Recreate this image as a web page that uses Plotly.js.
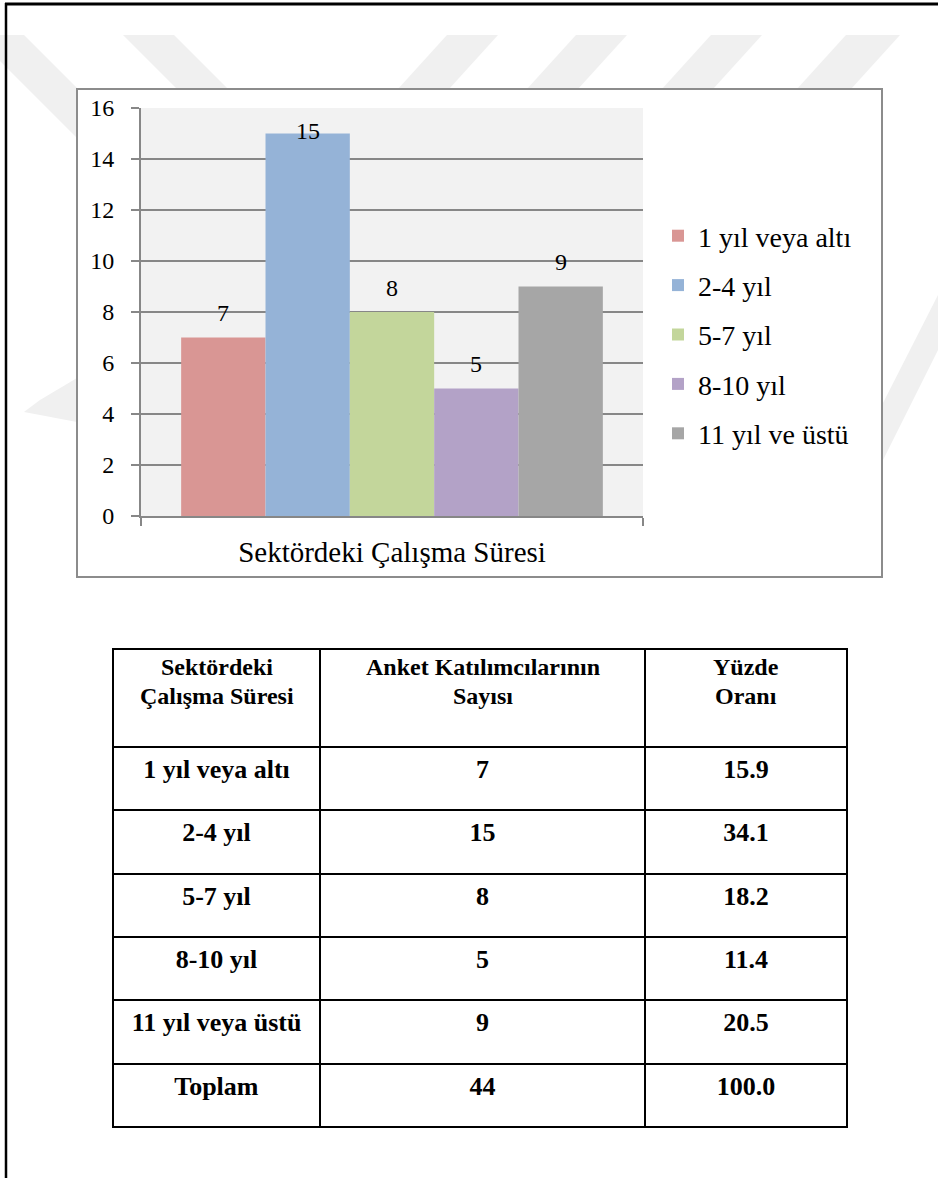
<!DOCTYPE html>
<html>
<head>
<meta charset="utf-8">
<script src="https://cdn.plot.ly/plotly-3.0.1.min.js"></script>
<style>
  html, body { margin: 0; padding: 0; background: #ffffff; }
  #chart { width: 938px; height: 1178px; }
</style>
</head>
<body>
<div id="chart"></div>
<script>
// ---- data ----
const categoryLabel = 'Sektördeki Çalışma Süresi';
const seriesNames = ['1 yıl veya altı', '2-4 yıl', '5-7 yıl', '8-10 yıl', '11 yıl ve üstü'];
const counts = [7, 15, 8, 5, 9];
const yTickValues = [0, 2, 4, 6, 8, 10, 12, 14, 16];

const tableHeaderLines = [
  ['Sektördeki', 'Çalışma Süresi'],
  ['Anket Katılımcılarının', 'Sayısı'],
  ['Yüzde', 'Oranı']
];
const tableRowLabels = ['1 yıl veya altı', '2-4 yıl', '5-7 yıl', '8-10 yıl', '11 yıl veya üstü', 'Toplam'];
const totalCount = 44;
const percentValues = ['15.9', '34.1', '18.2', '11.4', '20.5'];
const totalPercent = '100.0';

// ---- style ----
const seriesColors = ['#d99694', '#95b3d7', '#c3d69b', '#b3a2c7', '#a6a6a6'];
const FONT = 'Liberation Serif';
const W = 938, H = 1178;
const px = v => v / W;          // page pixel -> paper x
const py = v => 1 - v / H;      // page pixel -> paper y
const axisGray = '#878787';
const barGap = 0.16;
const TABLE_FONT = 26;
const HEADER_FONT = 24;

// polygon (page pixels) -> paper path
function poly(points) {
  return 'M' + points.map(p => px(p[0]).toFixed(5) + ',' + py(p[1]).toFixed(5)).join(' L') + ' Z';
}

// ---- bar traces ----
const barTraces = seriesNames.map((name, i) => ({
  type: 'bar',
  name: name,
  x: [categoryLabel],
  y: [counts[i]],
  marker: { color: seriesColors[i], line: { width: 0 } },
  legendgroup: 'g' + i,
  hoverinfo: 'name+y',
  xaxis: 'x', yaxis: 'y'
}));

// ---- value labels above the bars ----
const yMax = 16;
const groupWidth = 1 - barGap;
const barWidth = groupWidth / counts.length;
const valueLabels = counts.map((v, i) => ({
  xref: 'x', yref: 'y',
  x: -groupWidth / 2 + barWidth * (i + 0.5),
  y: Math.min(v + 0.95, yMax - 0.9),
  text: String(v),
  showarrow: false,
  xanchor: 'center', yanchor: 'middle',
  font: { family: FONT, size: 24, color: '#000000' }
}));

// ---- table ----
const colEdges = [113, 320, 645, 847];
const countColumn = counts.map(String).concat([String(totalCount)]);
const percentColumn = percentValues.concat([totalPercent]);
const bold = arr => arr.map(t => '<b>' + t + '</b>');
const tableTrace = {
  type: 'table',
  domain: { x: [px(colEdges[0]), px(colEdges[3])], y: [py(1140), py(649)] },
  columnwidth: [colEdges[1] - colEdges[0], colEdges[2] - colEdges[1], colEdges[3] - colEdges[2]],
  header: {
    values: tableHeaderLines.map(() => ['']),
    align: 'center',
    height: 98,
    line: { color: '#000000', width: 2 },
    fill: { color: '#ffffff' },
    font: { family: FONT, size: HEADER_FONT, color: '#000000' }
  },
  cells: {
    values: [bold(tableRowLabels), bold(countColumn), bold(percentColumn)],
    align: 'center',
    height: 63.33,
    line: { color: '#000000', width: 2 },
    fill: { color: '#ffffff' },
    font: { family: FONT, size: TABLE_FONT, color: '#000000' }
  }
};
// two-line header captions, each line centred in its column
const headerLineCentres = [667, 696];
const headerLabels = [];
tableHeaderLines.forEach((lines, i) => {
  lines.forEach((line, k) => {
    headerLabels.push({
      xref: 'paper', yref: 'paper',
      x: px((colEdges[i] + colEdges[i + 1]) / 2),
      y: py(headerLineCentres[k]),
      text: '<b>' + line + '</b>',
      showarrow: false,
      xanchor: 'center', yanchor: 'middle',
      font: { family: FONT, size: HEADER_FONT, color: '#000000' }
    });
  });
});

// ---- page decoration: faint background stripes, page rules, chart frame ----
const stripeFill = '#f0f0f0';
const stripes = [
  [[0, 35], [24, 35], [78, 89], [77, 89], [77, 138], [0, 61]],
  [[123, 35], [174, 35], [228, 89], [177, 89]],
  [[447, 35], [498, 35], [449, 89], [398, 89]],
  [[576, 35], [627, 35], [578, 89], [527, 89]],
  [[711, 35], [762, 35], [713, 89], [662, 89]],
  [[846, 35], [900, 35], [851, 89], [797, 89]],
  [[938, 295], [938, 350], [882, 462], [882, 405]],
  [[77, 378], [77, 422], [24, 412], [40, 400]]
];
const shapes = stripes.map(pts => ({
  type: 'path', xref: 'paper', yref: 'paper', layer: 'below',
  path: poly(pts), fillcolor: stripeFill, line: { width: 0 }
}));
// chart frame (white card)
shapes.push({
  type: 'rect', xref: 'paper', yref: 'paper', layer: 'below',
  x0: px(77), x1: px(882), y0: py(577), y1: py(89),
  fillcolor: '#ffffff', line: { color: '#8c8c8c', width: 2 }
});
// plot area fill
shapes.push({
  type: 'rect', xref: 'x domain', yref: 'y domain', layer: 'below',
  x0: 0, x1: 1, y0: 0, y1: 1,
  fillcolor: '#f2f2f2', line: { width: 0 }
});
// page rules (left and top)
shapes.push({
  type: 'line', xref: 'paper', yref: 'paper', layer: 'above',
  x0: px(6), x1: px(6), y0: 0, y1: py(3),
  line: { color: '#000000', width: 2.5 }
});
shapes.push({
  type: 'line', xref: 'paper', yref: 'paper', layer: 'above',
  x0: px(5), x1: 1, y0: py(4), y1: py(4),
  line: { color: '#000000', width: 3 }
});

const layout = {
  width: W, height: H,
  margin: { l: 0, r: 0, t: 0, b: 0, pad: 0 },
  paper_bgcolor: '#ffffff',
  plot_bgcolor: 'rgba(0,0,0,0)',
  font: { family: FONT, color: '#000000', size: 24 },
  barmode: 'group',
  bargap: barGap,
  bargroupgap: 0,
  showlegend: true,
  legend: {
    x: px(658), xanchor: 'left',
    y: py(211), yanchor: 'top',
    bgcolor: 'rgba(0,0,0,0)',
    borderwidth: 0,
    tracegroupgap: 10,
    font: { family: FONT, size: 28, color: '#000000' }
  },
  xaxis: {
    domain: [px(141), px(643)],
    anchor: 'y',
    type: 'category',
    tickson: 'boundaries',
    ticks: 'outside', ticklen: 8, tickwidth: 2, tickcolor: axisGray,
    showline: true, linecolor: axisGray, linewidth: 2,
    showgrid: false, zeroline: false,
    ticklabelstandoff: 9,
    tickfont: { family: FONT, size: 29, color: '#000000' },
    fixedrange: true
  },
  yaxis: {
    domain: [py(516), py(108)],
    anchor: 'x',
    range: [0, yMax],
    tickvals: yTickValues,
    ticks: 'outside', ticklen: 8, tickwidth: 2, tickcolor: axisGray,
    showline: true, linecolor: axisGray, linewidth: 2,
    showgrid: true, gridcolor: axisGray, gridwidth: 2,
    zeroline: false,
    ticklabelstandoff: 12,
    tickfont: { family: FONT, size: 24, color: '#000000' },
    fixedrange: true
  },
  shapes: shapes,
  annotations: valueLabels.concat(headerLabels)
};

Plotly.newPlot('chart', barTraces.concat([tableTrace]), layout, { displayModeBar: false, staticPlot: true });
</script>
</body>
</html>
